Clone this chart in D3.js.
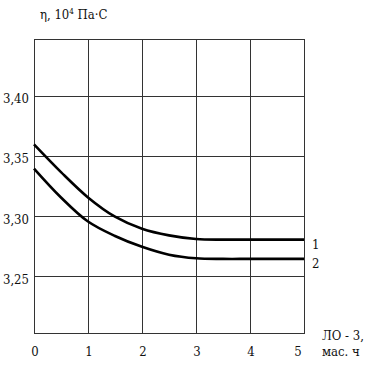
<!DOCTYPE html>
<html>
<head>
<meta charset="utf-8">
<script src="https://cdn.jsdelivr.net/npm/d3@7"></script>
<style>
  body { margin: 0; background: #fff; }
  svg { display: block; }
</style>
</head>
<body>
<div id="chart"></div>
<script>
// Datos del gráfico
const xTicks = [0, 1, 2, 3, 4, 5];
const yTicks = [3.25, 3.30, 3.35, 3.40];
const xPoints = [0, 0.5, 1, 1.5, 2, 2.5, 3, 3.5, 4, 5];
const curve1 = [3.360, 3.337, 3.316, 3.300, 3.290, 3.2845, 3.2815, 3.281, 3.281, 3.281];
const curve2 = [3.340, 3.316, 3.296, 3.284, 3.275, 3.2685, 3.2655, 3.265, 3.265, 3.265];
const seriesLabels = ['1', '2'];

const FONT = '"DejaVu Serif Condensed", "DejaVu Serif", serif';
const FS = '13px';
const W = 371, H = 371;
const margin = {top: 39, right: 67, bottom: 38, left: 34};
const width = W - margin.left - margin.right;
const height = H - margin.top - margin.bottom;

const svg = d3.select('#chart')
    .append('svg')
    .attr('width', W)
    .attr('height', H)
    .attr('font-family', FONT)
    .attr('fill', '#111');

const g = svg.append('g')
    .attr('transform', `translate(${margin.left},${margin.top})`);

const x = d3.scaleLinear().domain([0, 5]).range([0, width]);
const y = d3.scaleLinear().domain([3.2035, 3.4475]).range([height, 0]);

// Rejilla vertical
g.selectAll('.vgrid')
    .data(xTicks)
    .enter()
    .append('line')
    .attr('x1', d => x(d))
    .attr('x2', d => x(d))
    .attr('y1', 0)
    .attr('y2', height)
    .attr('stroke', '#333')
    .attr('stroke-width', 1)
    .attr('shape-rendering', 'crispEdges');

// Rejilla horizontal
g.selectAll('.hgrid')
    .data(yTicks)
    .enter()
    .append('line')
    .attr('x1', 0)
    .attr('x2', width)
    .attr('y1', d => y(d))
    .attr('y2', d => y(d))
    .attr('stroke', '#333')
    .attr('stroke-width', 1)
    .attr('shape-rendering', 'crispEdges');

// Marco
g.append('rect')
    .attr('x', 0)
    .attr('y', 0)
    .attr('width', width)
    .attr('height', height)
    .attr('fill', 'none')
    .attr('stroke', '#333')
    .attr('stroke-width', 1)
    .attr('shape-rendering', 'crispEdges');

// Etiquetas eje Y
g.selectAll('.ylabel')
    .data(yTicks)
    .enter()
    .append('text')
    .attr('x', -5)
    .attr('y', d => y(d) + 7)
    .attr('text-anchor', 'end')
    .attr('font-size', FS)
    .attr('font-family', FONT)
    .text(d => d.toFixed(2).replace('.', ','));

// Etiquetas eje X
g.selectAll('.xlabel')
    .data(xTicks)
    .enter()
    .append('text')
    .attr('x', d => x(d) + (d === 5 ? -6 : 1))
    .attr('y', height + 23)
    .attr('text-anchor', 'middle')
    .attr('font-size', FS)
    .attr('font-family', FONT)
    .text(d => d);

// Curvas
const line = d3.line()
    .x((d, i) => x(xPoints[i]))
    .y(d => y(d))
    .curve(d3.curveCatmullRom.alpha(0.5));

[curve1, curve2].forEach((s, k) => {
    g.append('path')
        .datum(s)
        .attr('fill', 'none')
        .attr('stroke', '#000')
        .attr('stroke-width', 2.6)
        .attr('d', line);

    g.append('text')
        .attr('x', width + 8)
        .attr('y', y(s[s.length - 1]) + 9)
        .attr('font-size', FS)
        .attr('font-family', FONT)
        .text(seriesLabels[k]);
});

// Título eje Y
const title = svg.append('text')
    .attr('x', 40)
    .attr('y', 19)
    .attr('font-size', FS)
    .attr('font-family', FONT);
title.append('tspan').text('η, 10');
title.append('tspan').attr('font-size', '8px').attr('dy', -5).text('4');
title.append('tspan').attr('dy', 5).text(' Па·С');

// Título eje X
svg.append('text')
    .attr('x', 322)
    .attr('y', 340)
    .attr('font-size', FS)
    .attr('font-family', FONT)
    .text('ЛО - 3,');
svg.append('text')
    .attr('x', 322)
    .attr('y', 356)
    .attr('font-size', FS)
    .attr('font-family', FONT)
    .text('мас. ч');
</script>
</body>
</html>
